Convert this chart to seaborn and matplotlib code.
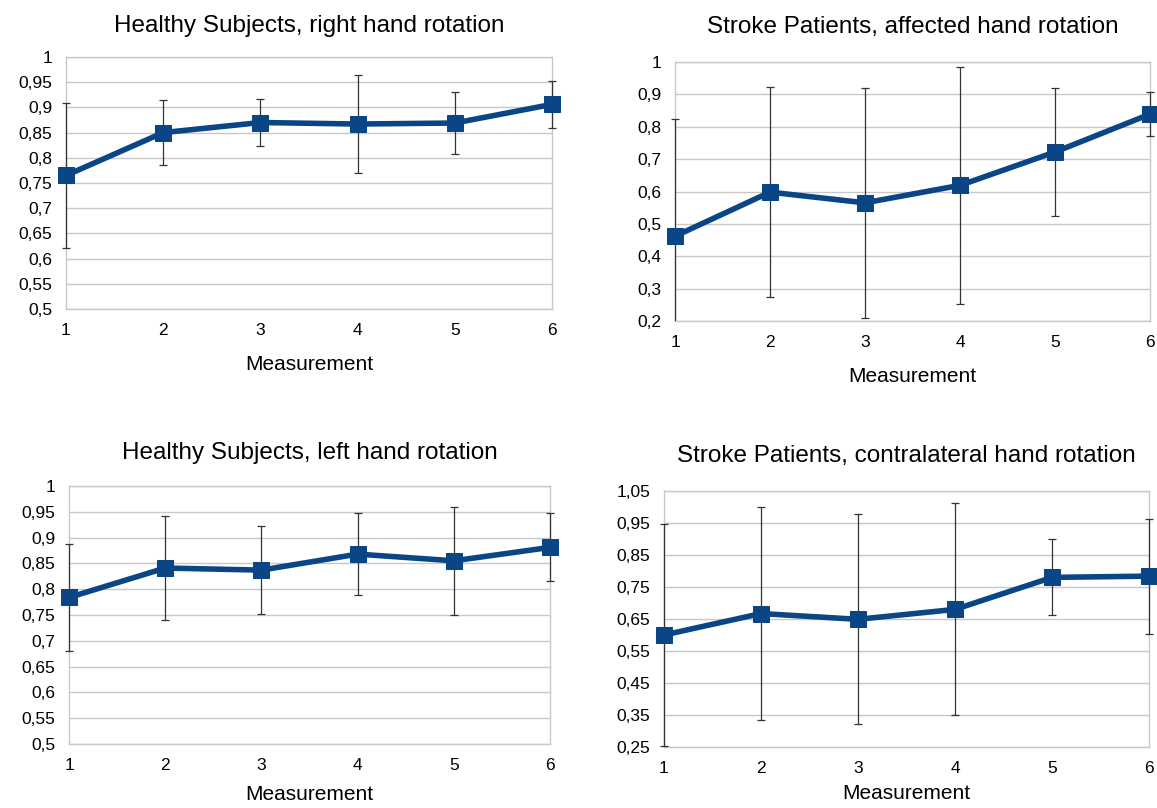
import numpy as np
import pandas as pd
import matplotlib
matplotlib.use("Agg")
import matplotlib.pyplot as plt
from matplotlib.transforms import Bbox, TransformedBbox
import seaborn as sns

measurement = [1, 2, 3, 4, 5, 6]

# mean values and standard deviations
hs_right = [0.765, 0.850, 0.870, 0.867, 0.869, 0.906]
hs_right_sd = [0.144, 0.065, 0.047, 0.097, 0.061, 0.046]

sp_affected = [0.462, 0.598, 0.565, 0.619, 0.722, 0.839]
sp_affected_sd = [0.362, 0.325, 0.356, 0.366, 0.198, 0.068]

hs_left = [0.784, 0.841, 0.837, 0.868, 0.855, 0.881]
hs_left_sd = [0.104, 0.100, 0.086, 0.079, 0.105, 0.066]

sp_contra = [0.600, 0.667, 0.649, 0.680, 0.780, 0.784]
sp_contra_sd = [0.346, 0.333, 0.328, 0.331, 0.119, 0.180]

titles = ["Healthy Subjects, right hand rotation",
          "Stroke Patients, affected hand rotation",
          "Healthy Subjects, left hand rotation",
          "Stroke Patients, contralateral hand rotation"]

yticks_list = [np.round(np.arange(0.5, 1.001, 0.05), 2),
               np.round(np.arange(0.2, 1.001, 0.1), 2),
               np.round(np.arange(0.5, 1.001, 0.05), 2),
               np.round(np.arange(0.25, 1.051, 0.1), 2)]

sns.set_theme(style="white")
plt.rcParams["font.family"] = ["Liberation Sans", "DejaVu Sans"]
plt.rcParams["text.color"] = "black"
plt.rcParams["axes.labelcolor"] = "black"

fig = plt.figure(figsize=(11.57, 8.08), dpi=100)

# axes positions in pixels: left, top, right, bottom
boxes = [(66, 57, 552, 309),
         (675, 62, 1150, 321),
         (69, 486, 550, 744),
         (664, 491, 1149, 747)]
title_pads = [18, 21, 19.5, 21]
label_pads = [12, 12, 9, 6]

series = [(hs_right, hs_right_sd), (sp_affected, sp_affected_sd),
          (hs_left, hs_left_sd), (sp_contra, sp_contra_sd)]

blue = "#0a4586"
grid_c = "#c8c8c8"

for i, ((vals, sd), box) in enumerate(zip(series, boxes)):
    l, t, r, b = box
    ax = fig.add_axes([l / 1157, 1 - b / 808, (r - l) / 1157, (b - t) / 808])
    df = pd.DataFrame({"Measurement": measurement, "value": vals, "sd": sd})

    # error bars: clip only at top/bottom so bars on the edges stay visible
    eb = ax.errorbar(df["Measurement"], df["value"], yerr=df["sd"], fmt="none",
                     ecolor="#333333", elinewidth=0.9, capsize=3, capthick=0.9,
                     zorder=2.6)
    clip = TransformedBbox(Bbox([[-0.05, 0], [1.05, 1]]), ax.transAxes)
    for art in list(eb.lines[1]) + list(eb.lines[2]):
        art.set_clip_box(clip)

    sns.lineplot(data=df, x="Measurement", y="value", ax=ax, color=blue,
                 linewidth=4, marker="s", markersize=11, markeredgecolor=blue,
                 zorder=3, clip_on=False)

    yt = yticks_list[i]
    ax.set_ylim(yt[0], yt[-1])
    ax.set_xlim(1, 6)
    ax.set_yticks(yt)
    ax.set_yticklabels([("%g" % v).replace(".", ",") for v in yt], fontsize=12.5)
    ax.set_xticks(measurement)
    ax.set_xticklabels([str(m) for m in measurement], fontsize=12.5)
    ax.grid(axis="y", color=grid_c, linewidth=1)
    for s in ["left", "right", "bottom", "top"]:
        ax.spines[s].set_color(grid_c)
        ax.spines[s].set_linewidth(1)
    ax.tick_params(axis="both", length=5, width=1, pad=5, colors="black")
    ax.tick_params(axis="both", color=grid_c)
    ax.set_xlabel("Measurement", fontsize=15, labelpad=label_pads[i])
    ax.set_ylabel("")
    ax.set_title(titles[i], fontsize=17.5, pad=title_pads[i])

fig.savefig("out.png", dpi=100)
